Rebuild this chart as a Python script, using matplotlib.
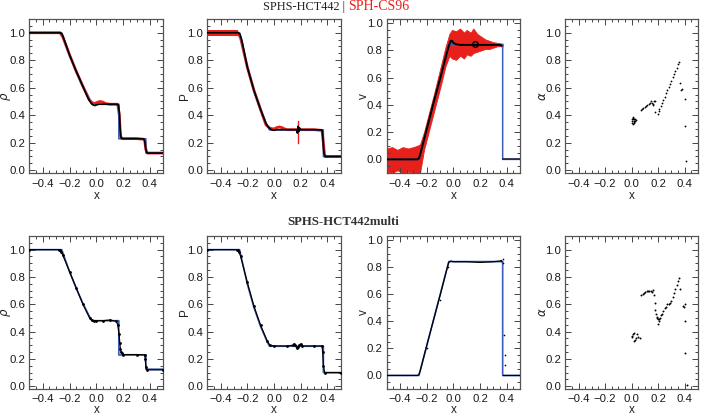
import matplotlib
matplotlib.use("Agg")
import matplotlib.pyplot as plt
from matplotlib.ticker import MultipleLocator

# ---------------- data ----------------
# analytic solution (blue)
ana_x = [-0.5, -0.258, -0.2, -0.15, -0.1, -0.05, -0.034, 0.168, 0.168, 0.37, 0.37, 0.5]
ana_rho = [1.0, 1.0, 0.84, 0.718, 0.607, 0.509, 0.48, 0.48, 0.229, 0.229, 0.125, 0.125]
ana_P = [1.0, 1.0, 0.748, 0.575, 0.436, 0.324, 0.293, 0.293, 0.293, 0.293, 0.1, 0.1]
ana_v = [0.0, 0.0, 0.218, 0.406, 0.593, 0.781, 0.841, 0.841, 0.841, 0.841, 0.0, 0.0]

# --- top row: SPHS-HCT442 (black) ---
t_rho_x = [-0.5, -0.27, -0.255, -0.24, -0.2, -0.15, -0.1, -0.06, -0.04, -0.025, -0.01, 0.0, 0.02,
           0.05, 0.1, 0.15, 0.165, 0.172, 0.178, 0.185, 0.2, 0.3, 0.355, 0.362, 0.368, 0.375, 0.385, 0.5]
t_rho_y = [1.0, 1.0, 0.99, 0.95, 0.84, 0.72, 0.61, 0.52, 0.49, 0.475, 0.47, 0.475, 0.48,
           0.48, 0.48, 0.48, 0.475, 0.42, 0.3, 0.235, 0.23, 0.23, 0.228, 0.21, 0.16, 0.13, 0.125, 0.125]
t_P_x = [-0.5, -0.27, -0.255, -0.24, -0.2, -0.15, -0.1, -0.06, -0.04, -0.02, 0.0, 0.02, 0.05, 0.1,
         0.17, 0.175, 0.18, 0.185, 0.19, 0.2, 0.3, 0.36, 0.365, 0.37, 0.375, 0.385, 0.5]
t_P_y = [1.0, 1.0, 0.99, 0.94, 0.75, 0.58, 0.44, 0.34, 0.31, 0.295, 0.29, 0.295, 0.295, 0.295,
         0.295, 0.27, 0.32, 0.28, 0.31, 0.295, 0.295, 0.293, 0.26, 0.18, 0.12, 0.1, 0.1]
t_v_x = [-0.5, -0.27, -0.26, -0.25, -0.24, -0.2, -0.15, -0.1, -0.06, -0.035, -0.02, -0.01, 0.0,
         0.02, 0.05, 0.1, 0.2, 0.3, 0.35, 0.36]
t_v_y = [0.0, 0.0, 0.005, 0.03, 0.07, 0.22, 0.41, 0.59, 0.74, 0.83, 0.87, 0.87, 0.855,
         0.845, 0.84, 0.84, 0.84, 0.84, 0.84, 0.835]
t_v_post_x = [0.375, 0.5]
t_v_post_y = [0.0, 0.0]
t_v_blob_x = [0.16]
t_v_blob_y = [0.845]
t_a_x = [0.0, 0.005, 0.01, 0.015, 0.02, 0.025, 0.03, 0.0, 0.01, 0.02, 0.012, 0.008, 0.018, 0.028,
         0.07, 0.08, 0.09, 0.1, 0.11, 0.12, 0.13, 0.14, 0.15, 0.155, 0.16, 0.165, 0.17, 0.175,
         0.177, 0.2, 0.205, 0.21, 0.22, 0.23, 0.24, 0.25, 0.26, 0.27, 0.28, 0.29, 0.3, 0.31,
         0.32, 0.33, 0.34, 0.35, 0.36, 0.364, 0.375, 0.38, 0.4, 0.404, 0.409]
t_a_y = [0.37, 0.36, 0.38, 0.35, 0.37, 0.36, 0.365, 0.345, 0.335, 0.345, 0.375, 0.39, 0.355, 0.37,
         0.44, 0.447, 0.455, 0.462, 0.47, 0.477, 0.485, 0.492, 0.5, 0.49, 0.475, 0.485, 0.5, 0.505,
         0.426, 0.41, 0.43, 0.445, 0.465, 0.49, 0.51, 0.535, 0.56, 0.58, 0.605, 0.63, 0.65, 0.675,
         0.70, 0.72, 0.745, 0.77, 0.79, 0.633, 0.585, 0.59, 0.52, 0.32, 0.07]

# --- top row: SPH-CS96 (red) ---
r_rho_x = [-0.5, -0.27, -0.25, -0.2, -0.15, -0.1, -0.05, -0.03, -0.01, 0.01, 0.03, 0.05, 0.07, 0.1,
           0.16, 0.172, 0.18, 0.19, 0.3, 0.36, 0.37, 0.38, 0.5]
r_rho_y = [1.0, 1.0, 0.97, 0.84, 0.72, 0.61, 0.51, 0.49, 0.485, 0.495, 0.5, 0.495, 0.485, 0.48,
           0.48, 0.4, 0.25, 0.23, 0.23, 0.225, 0.15, 0.125, 0.125]
r_P_x = [-0.5, -0.27, -0.25, -0.2, -0.15, -0.1, -0.06, -0.03, 0.0, 0.02, 0.04, 0.06, 0.08, 0.1,
         0.17, 0.3, 0.36, 0.37, 0.38, 0.5]
r_P_y = [1.0, 1.0, 0.96, 0.75, 0.58, 0.44, 0.33, 0.305, 0.30, 0.31, 0.315, 0.31, 0.30, 0.295,
         0.295, 0.295, 0.29, 0.2, 0.1, 0.1]
r_P_band_x = [-0.5, -0.27]
r_P_band_lo = [0.975, 0.975]
r_P_band_hi = [1.02, 1.02]
r_P_spike_x = [0.178, 0.178]
r_P_spike_y = [0.20, 0.36]
r_v_x = [-0.5, -0.46, -0.42, -0.38, -0.34, -0.3, -0.27, -0.25, -0.22, -0.18, -0.14, -0.1, -0.06,
         -0.03, -0.01, 0.02, 0.05, 0.08, 0.1, 0.13, 0.15, 0.18, 0.21, 0.24, 0.27, 0.3, 0.33, 0.36, 0.37]
r_v_hi = [0.08, 0.09, 0.07, 0.09, 0.08, 0.09, 0.10, 0.11, 0.20, 0.35, 0.50, 0.66, 0.82,
          0.92, 0.95, 0.94, 0.96, 0.93, 0.95, 0.93, 0.96, 0.92, 0.90, 0.88, 0.87, 0.86, 0.855, 0.85, 0.85]
r_v_lo = [-0.09, -0.10, -0.08, -0.10, -0.09, -0.10, -0.10, -0.10, 0.07, 0.22, 0.37, 0.52, 0.68,
          0.76, 0.74, 0.73, 0.76, 0.74, 0.77, 0.76, 0.78, 0.79, 0.80, 0.81, 0.81, 0.82, 0.83, 0.83, 0.83]

# --- bottom row: SPHS-HCT442multi (black) ---
b_rho_x = [-0.5, -0.28, -0.27, -0.26, -0.25, -0.2, -0.15, -0.1, -0.05, -0.035, -0.02, 0.0, 0.05,
           0.1, 0.15, 0.16, 0.17, 0.175, 0.18, 0.185, 0.19, 0.2, 0.3, 0.36, 0.365, 0.37, 0.38, 0.5]
b_rho_y = [1.0, 1.0, 0.995, 0.98, 0.96, 0.84, 0.72, 0.6, 0.5, 0.485, 0.48, 0.48, 0.48,
           0.485, 0.475, 0.45, 0.38, 0.32, 0.27, 0.25, 0.24, 0.232, 0.232, 0.23, 0.2, 0.14, 0.12, 0.12]
b_P_x = [-0.5, -0.28, -0.27, -0.26, -0.25, -0.2, -0.15, -0.1, -0.05, -0.03, 0.0, 0.1, 0.14, 0.15,
         0.16, 0.17, 0.18, 0.19, 0.2, 0.21, 0.3, 0.36, 0.365, 0.37, 0.38, 0.5]
b_P_y = [1.0, 1.0, 0.995, 0.98, 0.95, 0.76, 0.585, 0.445, 0.33, 0.3, 0.295, 0.295, 0.3, 0.31,
         0.3, 0.28, 0.29, 0.3, 0.31, 0.295, 0.295, 0.295, 0.25, 0.15, 0.1, 0.1]
b_v_x = [-0.5, -0.27, -0.26, -0.25, -0.2, -0.15, -0.1, -0.05, -0.035, -0.02, 0.0, 0.1, 0.2, 0.3,
         0.35, 0.36, 0.365]
b_v_y = [0.0, 0.0, 0.005, 0.03, 0.22, 0.405, 0.59, 0.78, 0.835, 0.845, 0.84, 0.84, 0.835, 0.84,
         0.845, 0.85, 0.84]
b_v_post_x = [0.375, 0.5]
b_v_post_y = [0.0, 0.0]
b_v_dots_x = [0.372, 0.375, 0.38, 0.385, 0.39, -0.2, -0.1, -0.04]
b_v_dots_y = [0.86, 0.83, 0.3, 0.15, 0.08, 0.2, 0.56, 0.8]
b_a_x = [0.0, 0.01, 0.02, 0.04, 0.05, 0.03, 0.015, 0.06, 0.0, 0.025,
         0.075, 0.085, 0.095, 0.105, 0.115, 0.125, 0.135, 0.145, 0.155, 0.16, 0.17,
         0.175, 0.18, 0.185, 0.19, 0.195, 0.2, 0.205, 0.21, 0.2,
         0.215, 0.22, 0.23, 0.24, 0.25, 0.26, 0.27, 0.28, 0.29, 0.3, 0.31, 0.32, 0.33, 0.34,
         0.35, 0.36, 0.365, 0.39, 0.395, 0.4, 0.4, 0.405, 0.42]
b_a_y = [0.36, 0.38, 0.39, 0.38, 0.36, 0.35, 0.33, 0.355, 0.37, 0.34,
         0.665, 0.675, 0.685, 0.69, 0.695, 0.70, 0.70, 0.695, 0.69, 0.705, 0.67,
         0.61, 0.56, 0.53, 0.51, 0.50, 0.495, 0.49, 0.48, 0.455,
         0.50, 0.52, 0.53, 0.55, 0.57, 0.58, 0.60, 0.605, 0.61, 0.625, 0.65, 0.68, 0.71, 0.74,
         0.77, 0.79, 0.71, 0.59, 0.58, 0.60, 0.48, 0.24, 0.01]

# ---------------- styling ----------------
BLUE = "#3d5cb8"
RED = "#e8201c"
plt.rcParams['font.family'] = ['Liberation Sans', 'DejaVu Sans']

W, H = 701, 415
fig = plt.figure(figsize=(W / 100, H / 100), dpi=100)

lefts = [29.3, 207.3, 386.7, 565.3]
widths = [134, 133.4, 133.3, 132.5]
rows = [(19, 173), (236, 389)]


def make_ax(col, row):
    top, bot = rows[row]
    ax = fig.add_axes([lefts[col] / W, 1 - bot / H, widths[col] / W, (bot - top) / H])
    ax.set_xlim(-0.5, 0.5)
    ax.xaxis.set_major_locator(MultipleLocator(0.2))
    ax.xaxis.set_minor_locator(MultipleLocator(0.05))
    ax.yaxis.set_major_locator(MultipleLocator(0.2))
    ax.yaxis.set_minor_locator(MultipleLocator(0.05))
    ax.tick_params(which='both', direction='in', top=True, right=True, colors='#444444',
                   labelcolor='#1a1a1a', labelsize=8.2, width=0.7)
    ax.tick_params(which='major', length=4.5)
    ax.tick_params(which='minor', length=2.2)
    ax.tick_params(axis='x', pad=3.5 if row == 1 else 4)
    ax.tick_params(axis='y', pad=3)
    for s in ax.spines.values():
        s.set_color('#555555')
        s.set_linewidth(0.9)
    ax.set_xlabel('x', fontsize=8.5, labelpad=0 if row == 1 else 1, color='#222222')
    return ax


def fmt_labels(ax, col, ylim, ylabel):
    ax.set_ylim(*ylim)
    ax.set_ylabel(ylabel, fontsize=8.5, color='#222222')
    ax.yaxis.set_label_coords(-16.5 / widths[col], 0.5)


# ---- top row ----
ax = make_ax(0, 0)
fmt_labels(ax, 0, (-0.02, 1.1), r'$\rho$')
ax.plot(r_rho_x, r_rho_y, color=RED, lw=2.0, zorder=1)
ax.plot(ana_x, ana_rho, color=BLUE, lw=1.1, zorder=2)
ax.plot(t_rho_x, t_rho_y, color='black', lw=1.2, zorder=3)

ax = make_ax(1, 0)
fmt_labels(ax, 1, (-0.02, 1.1), 'P')
ax.fill_between(r_P_band_x, r_P_band_lo, r_P_band_hi, color=RED, lw=0, zorder=1)
ax.plot(r_P_x, r_P_y, color=RED, lw=2.0, zorder=1)
ax.plot(r_P_spike_x, r_P_spike_y, color=RED, lw=1.0, zorder=1)
ax.plot(ana_x, ana_P, color=BLUE, lw=1.1, zorder=2)
ax.plot(t_P_x, t_P_y, color='black', lw=1.2, zorder=3)

ax = make_ax(2, 0)
fmt_labels(ax, 2, (-0.1, 1.03), 'v')
ax.fill_between(r_v_x, r_v_lo, r_v_hi, color=RED, lw=0.6, edgecolor=RED, zorder=1)
ax.plot(ana_x, ana_v, color=BLUE, lw=1.1, zorder=2)
ax.plot(t_v_x, t_v_y, color='black', lw=1.4, zorder=3)
ax.plot(t_v_post_x, t_v_post_y, color='#202840', lw=1.2, zorder=3)
ax.plot(t_v_blob_x, t_v_blob_y, 'o', ms=4, mfc='none', mec='black', mew=1.0, zorder=4)

ax = make_ax(3, 0)
fmt_labels(ax, 3, (-0.02, 1.1), r'$\alpha$')
ax.plot(t_a_x, t_a_y, 'o', ms=1.3, color='black', mew=0)

# ---- bottom row ----
ax = make_ax(0, 1)
fmt_labels(ax, 0, (-0.02, 1.1), r'$\rho$')
ax.plot(ana_x, ana_rho, color=BLUE, lw=1.2, zorder=2)
ax.plot(b_rho_x, b_rho_y, color='black', lw=0.9, marker='o', ms=1.0, zorder=3)

ax = make_ax(1, 1)
fmt_labels(ax, 1, (-0.02, 1.1), 'P')
ax.plot(ana_x, ana_P, color=BLUE, lw=1.2, zorder=2)
ax.plot(b_P_x, b_P_y, color='black', lw=0.9, marker='o', ms=1.0, zorder=3)

ax = make_ax(2, 1)
fmt_labels(ax, 2, (-0.1, 1.03), 'v')
ax.plot(ana_x, ana_v, color=BLUE, lw=1.2, zorder=2)
ax.plot(b_v_x, b_v_y, color='black', lw=0.9, zorder=3)
ax.plot(b_v_post_x, b_v_post_y, color='black', lw=0.9, zorder=3)
ax.plot(b_v_dots_x, b_v_dots_y, 'o', ms=1.2, color='black', mew=0, zorder=3)

ax = make_ax(3, 1)
fmt_labels(ax, 3, (-0.02, 1.1), r'$\alpha$')
ax.plot(b_a_x, b_a_y, 'o', ms=1.4, color='black', mew=0)

# ---- titles ----
fig.text(345 / W, 1 - 10 / H, 'SPHS-HCT442 |', ha='right', va='baseline',
         fontsize=8.8, family=['Liberation Serif', 'DejaVu Serif'], color='#222222')
fig.text(348 / W, 1 - 10 / H, 'SPH-CS96', ha='left', va='baseline',
         fontsize=10.0, family=['Liberation Serif', 'DejaVu Serif'], color=RED)
fig.text(343 / W, 1 - 222 / H, 'SPHS-HCT442multi', ha='center', va='center',
         fontsize=9.2, fontweight='bold', family=['Liberation Serif', 'DejaVu Serif'], color='#333333')

fig.savefig('out.png', dpi=100)
